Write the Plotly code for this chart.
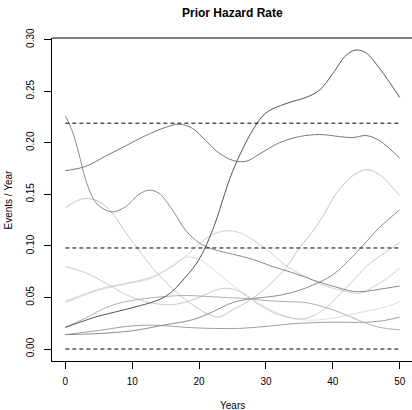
import plotly.graph_objects as go

# ---- data ----
x_A = [0, 5, 10, 15, 18, 20, 22, 25, 28, 30, 33, 36, 38, 40, 42, 43.5, 45, 47, 50]
y_A = [0.021, 0.032, 0.040, 0.051, 0.070, 0.087, 0.115, 0.172, 0.212, 0.229, 0.238, 0.244, 0.251, 0.267, 0.285, 0.290, 0.287, 0.272, 0.244]

x_B = [0, 3, 6, 9, 12, 15, 17, 19, 21, 23, 25, 27, 29, 32, 35, 38, 41, 43, 45, 47, 50]
y_B = [0.173, 0.177, 0.187, 0.197, 0.207, 0.215, 0.218, 0.214, 0.202, 0.190, 0.183, 0.182, 0.189, 0.200, 0.206, 0.208, 0.206, 0.205, 0.207, 0.202, 0.185]

x_C = [0, 1, 2, 3, 4, 5, 7, 9, 11, 12.5, 14, 16, 18, 20, 22, 25, 28, 31, 34, 37, 40, 43, 45, 47, 50]
y_C = [0.226, 0.212, 0.190, 0.165, 0.148, 0.139, 0.133, 0.138, 0.150, 0.154, 0.151, 0.135, 0.115, 0.103, 0.097, 0.092, 0.087, 0.080, 0.074, 0.067, 0.061, 0.056, 0.056, 0.058, 0.061]

x_D = [0, 1.5, 3, 5, 7, 9, 11, 13, 15, 17, 19, 21, 23, 25, 27, 29, 31, 33, 35, 37, 39, 40, 41, 43, 45, 47, 49, 50]
y_D = [0.137, 0.143, 0.146, 0.143, 0.132, 0.113, 0.096, 0.079, 0.065, 0.053, 0.043, 0.035, 0.031, 0.038, 0.045, 0.054, 0.065, 0.079, 0.098, 0.114, 0.134, 0.146, 0.155, 0.168, 0.174, 0.169, 0.156, 0.149]

x_E = [0, 3, 6, 9, 12, 15, 17, 20, 22, 24, 26, 28, 30, 32, 35, 37, 39, 41, 43, 45, 47, 50]
y_E = [0.080, 0.074, 0.064, 0.053, 0.046, 0.043, 0.044, 0.050, 0.056, 0.059, 0.056, 0.047, 0.039, 0.033, 0.029, 0.032, 0.040, 0.053, 0.066, 0.080, 0.090, 0.103]

x_F = [0, 5, 10, 13, 16, 18, 20, 22, 24, 26, 28, 30, 33, 36, 39, 42, 44, 46, 48, 50]
y_F = [0.046, 0.058, 0.065, 0.070, 0.080, 0.090, 0.102, 0.111, 0.1146, 0.113, 0.106, 0.097, 0.081, 0.070, 0.061, 0.056, 0.054, 0.060, 0.068, 0.0785]

x_G = [0, 5, 10, 13, 16, 18, 20, 22, 24, 26, 28.6, 31, 34, 37, 40, 43, 46, 48, 50]
y_G = [0.045, 0.057, 0.064, 0.069, 0.081, 0.089, 0.087, 0.078, 0.067, 0.057, 0.046, 0.037, 0.030, 0.028, 0.030, 0.034, 0.038, 0.041, 0.046]

x_I = [0, 3, 6, 9, 12, 15, 18, 21, 24, 27, 30, 33, 36, 38, 40, 42, 45, 47, 50]
y_I = [0.021, 0.030, 0.040, 0.046, 0.049, 0.051, 0.052, 0.051, 0.050, 0.049, 0.047, 0.046, 0.045, 0.042, 0.038, 0.033, 0.025, 0.021, 0.0187]

x_J = [0, 5, 10, 14, 18, 22, 26, 30, 35, 40, 45, 48, 50]
y_J = [0.014, 0.018, 0.0225, 0.023, 0.021, 0.020, 0.020, 0.022, 0.025, 0.026, 0.026, 0.028, 0.031]

x_K = [0, 5, 10, 15, 19, 22, 25, 28, 31, 34, 37, 40, 43, 45, 47, 50]
y_K = [0.014, 0.015, 0.0177, 0.0236, 0.0284, 0.036, 0.045, 0.049, 0.051, 0.055, 0.062, 0.072, 0.090, 0.104, 0.118, 0.135]

ref_levels = [0.0, 0.098, 0.219]
x_ticks = [0, 10, 20, 30, 40, 50]
y_ticks = [0.00, 0.05, 0.10, 0.15, 0.20, 0.25, 0.30]
y_tick_text = ["0.00", "0.05", "0.10", "0.15", "0.20", "0.25", "0.30"]

series = [
    (x_J, y_J, "#a0a0a0"),
    (x_G, y_G, "#dcdcdc"),
    (x_F, y_F, "#cfcfcf"),
    (x_E, y_E, "#c8c8c8"),
    (x_D, y_D, "#c4c4c4"),
    (x_I, y_I, "#b0b0b0"),
    (x_K, y_K, "#8c8c8c"),
    (x_C, y_C, "#8a8a8a"),
    (x_B, y_B, "#777777"),
    (x_A, y_A, "#555555"),
]

FONT = "Liberation Sans, Arial, Helvetica, sans-serif"

fig = go.Figure()
for xs, ys, col in series:
    fig.add_trace(go.Scatter(x=xs, y=ys, mode="lines",
                             line=dict(color=col, width=1, shape="spline", smoothing=1.0),
                             hoverinfo="skip", showlegend=False))
for lv in ref_levels:
    fig.add_trace(go.Scatter(x=[0, 50], y=[lv, lv], mode="lines",
                             line=dict(color="#000000", width=1, dash="4px,3px"),
                             hoverinfo="skip", showlegend=False))

fig.update_layout(
    width=412, height=410,
    margin=dict(l=52, r=0, t=38, b=49),
    paper_bgcolor="white", plot_bgcolor="white",
    font=dict(family=FONT, size=10, color="#000000"),
    xaxis=dict(range=[-2, 51.84], tickvals=x_ticks, ticks="outside", ticklen=7,
               tickcolor="#000000", showgrid=False, zeroline=False,
               showline=True, linecolor="#000000", linewidth=1,
               tickfont=dict(size=10), ticklabelstandoff=4),
    yaxis=dict(range=[-0.0116, 0.3016], tickvals=y_ticks, ticktext=y_tick_text,
               ticks="outside", ticklen=7, tickcolor="#000000", tickangle=-90,
               showgrid=False, zeroline=False, showline=True, linecolor="#000000",
               linewidth=1, tickfont=dict(size=10), ticklabelstandoff=6),
    shapes=[dict(type="line", xref="paper", yref="paper", x0=0, x1=1, y0=1, y1=1,
                 line=dict(color="#000000", width=1))],
    annotations=[
        dict(text="<b>Prior Hazard Rate</b>", xref="paper", yref="paper",
             x=0.5, y=1, yshift=25, showarrow=False,
             font=dict(size=12, family=FONT, color="#000000"), xanchor="center", yanchor="middle"),
        dict(text="Years", xref="paper", yref="paper", x=(232.5 - 52) / 360, y=0,
             yshift=-44, showarrow=False, font=dict(size=10, family=FONT),
             xanchor="center", yanchor="middle"),
        dict(text="Events / Year", xref="paper", yref="paper", x=0, xshift=-44,
             y=0.5, textangle=-90, showarrow=False, font=dict(size=10, family=FONT),
             xanchor="center", yanchor="middle"),
    ],
)

fig.write_html("out.html")
